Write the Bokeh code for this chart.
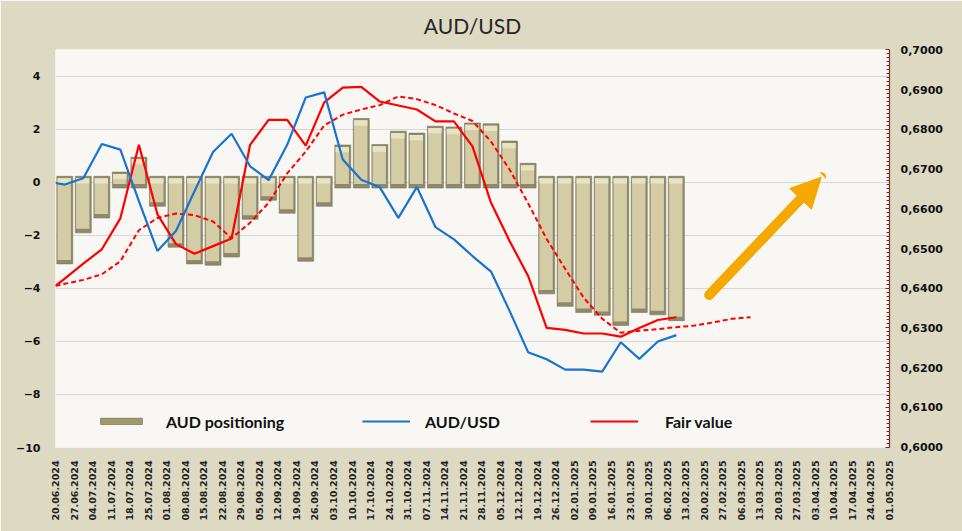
from bokeh.plotting import figure
from bokeh.models import (Range1d, LinearAxis, FixedTicker, CustomJSTickFormatter,
                          Legend, LegendItem, Arrow, NormalHead, Title)
from bokeh.embed import file_html
from bokeh.resources import INLINE
import math

# ---------------- data ----------------
week_labels = [
    "20.06.2024", "27.06.2024", "04.07.2024", "11.07.2024", "18.07.2024", "25.07.2024",
    "01.08.2024", "08.08.2024", "15.08.2024", "22.08.2024", "29.08.2024", "05.09.2024",
    "12.09.2024", "19.09.2024", "26.09.2024", "03.10.2024", "10.10.2024", "17.10.2024",
    "24.10.2024", "31.10.2024", "07.11.2024", "14.11.2024", "21.11.2024", "28.11.2024",
    "05.12.2024", "12.12.2024", "19.12.2024", "26.12.2024", "02.01.2025", "09.01.2025",
    "16.01.2025", "23.01.2025", "30.01.2025", "06.02.2025", "13.02.2025", "20.02.2025",
    "27.02.2025", "06.03.2025", "13.03.2025", "20.03.2025", "27.03.2025", "03.04.2025",
    "10.04.2025", "17.04.2025", "24.04.2025", "01.05.2025",
]

# AUD net positioning (left axis, bn USD)
positioning = [
    -3.08, -1.91, -1.35, 0.38, 0.94, -0.91, -2.45, -3.08, -3.13, -2.82,
    -1.40, -0.68, -1.17, -2.98, -0.91, 1.40, 2.40, 1.42, 1.92, 1.85,
    2.11, 2.08, 2.23, 2.20, 1.55, 0.71, -4.21, -4.68, -4.91, -5.02,
    -5.40, -4.91, -5.00, -5.22,
]

# AUD/USD (right axis) - first value sits on the first tick
audusd = [
    0.6665,
    0.6661, 0.6677, 0.6763, 0.6749, 0.6619, 0.6494, 0.6544, 0.6644, 0.6743, 0.6789,
    0.6707, 0.6672, 0.6761, 0.6880, 0.6893, 0.6724, 0.6673, 0.6654, 0.6577, 0.6655,
    0.6554, 0.6523, 0.6481, 0.6442, 0.6343, 0.6239, 0.6221, 0.6195, 0.6195, 0.6190,
    0.6264, 0.6222, 0.6266, 0.6282,
]

# Fair value (right axis)
fair_value = [
    0.6406,
    0.6424, 0.6462, 0.6498, 0.6576, 0.6761, 0.6586, 0.6511, 0.6487, 0.6506, 0.6525,
    0.6761, 0.6824, 0.6824, 0.6759, 0.6868, 0.6905, 0.6907, 0.6870, 0.6860, 0.6850,
    0.6820, 0.6820, 0.6757, 0.6615, 0.6519, 0.6431, 0.6300, 0.6295, 0.6286, 0.6286,
    0.6278, 0.6300, 0.6320, 0.6327,
]

# Fair value trend (dashed, right axis)
fair_value_trend = [
    0.6406,
    0.6411, 0.6421, 0.6435, 0.6468, 0.6546, 0.6577, 0.6588, 0.6584, 0.6568, 0.6526,
    0.6565, 0.6615, 0.6689, 0.6744, 0.6810, 0.6837, 0.6850, 0.6861, 0.6883, 0.6876,
    0.6861, 0.6840, 0.6821, 0.6769, 0.6699, 0.6614, 0.6524, 0.6449, 0.6376, 0.6323,
    0.6288, 0.6293, 0.6297, 0.6302, 0.6306, 0.6314, 0.6323, 0.6327,
]

left_ticks = [-10, -8, -6, -4, -2, 0, 2, 4]
right_ticks = [round(0.60 + 0.01 * i, 2) for i in range(11)]
right_minor = [round(0.60 + 0.001 * i, 3) for i in range(101)]

# ---------------- styles ----------------
BG = "#ddd9c3"
PLOT_BG = "#f8f7f3"
BAR_DARK = "#8e896b"
BAR_FACE = "#d4cca5"
BAR_TOP = "#e9e3c6"
BLUE = "#1874cd"
RED = "#ff0000"
ORANGE = "#f5a800"
AXIS_RED = "#8b2323"
OVERHANG = 0.22

n_bars = len(positioning)
bar_x = [k + 0.5 for k in range(n_bars)]
line_x = [0.0] + [k + 0.5 for k in range(len(audusd) - 1)]
fair_x = [0.0] + [k + 0.5 for k in range(len(fair_value) - 1)]
trend_x = [0.0] + [k + 0.5 for k in range(len(fair_value_trend) - 1)]

bar_top = [v if v > 0 else OVERHANG for v in positioning]
bar_bottom = [-OVERHANG if v > 0 else v for v in positioning]
inner_top = [t - 0.07 for t in bar_top]
inner_bottom = [b + 0.15 for b in bar_bottom]
cap_bottom = [t - 0.27 for t in bar_top]
inner_x = [x - 0.03 for x in bar_x]

p = figure(width=962, height=531, output_backend="svg", toolbar_location=None,
           x_range=Range1d(0, 45), y_range=Range1d(-10, 5),
           min_border_left=55, min_border_right=73, min_border_top=48, min_border_bottom=84)
p.extra_y_ranges = {"right": Range1d(0.5999, 0.7001)}

p.title = Title(text="AUD/USD", align="center", text_font="Lato", text_font_size="21px",
                text_font_style="normal", text_color="#262626", standoff=22,
                vertical_align="middle")

p.background_fill_color = PLOT_BG
p.border_fill_color = BG
p.outline_line_color = None

# grid
p.xgrid.visible = False
p.ygrid.ticker = FixedTicker(ticks=left_ticks)
p.ygrid.grid_line_color = "#d6d6d6"
p.ygrid.grid_line_width = 1

# x axis
p.xaxis.ticker = FixedTicker(ticks=list(range(len(week_labels))))
p.xaxis.major_label_overrides = {i: lab for i, lab in enumerate(week_labels)}
p.xaxis.major_label_orientation = math.pi / 2
p.xaxis.major_label_text_font = "DejaVu Sans"
p.xaxis.major_label_text_font_style = "bold"
p.xaxis.major_label_text_font_size = "9.5px"
p.xaxis.major_label_text_color = "#222222"
p.xaxis.axis_line_color = None
p.xaxis.major_tick_line_color = None
p.xaxis.minor_tick_line_color = None
p.xaxis.major_label_standoff = 7

# left axis
p.yaxis.ticker = FixedTicker(ticks=left_ticks)
p.yaxis.major_label_text_font = "DejaVu Sans"
p.yaxis.major_label_text_font_style = "bold"
p.yaxis.major_label_text_font_size = "11px"
p.yaxis.major_label_text_color = "#111111"
p.yaxis.axis_line_color = None
p.yaxis.major_tick_line_color = None
p.yaxis.minor_tick_line_color = None
p.yaxis.major_label_standoff = 9

# right axis
right_axis = LinearAxis(
    y_range_name="right",
    ticker=FixedTicker(ticks=right_ticks, minor_ticks=right_minor),
    formatter=CustomJSTickFormatter(code="return tick.toFixed(4).replace('.', ',');"),
    axis_line_color=AXIS_RED, axis_line_width=1.2,
    major_tick_line_color=AXIS_RED, minor_tick_line_color=AXIS_RED,
    major_tick_in=4, major_tick_out=0, minor_tick_in=3, minor_tick_out=0,
    major_label_standoff=11,
    major_label_text_font="DejaVu Sans", major_label_text_font_style="bold",
    major_label_text_font_size="11px", major_label_text_color="#111111",
)
p.add_layout(right_axis, "right")

# bars (bevelled look)
bars = p.vbar(x=bar_x, top=bar_top, bottom=bar_bottom, width=0.86,
              fill_color=BAR_DARK, line_color="#7a765c", line_width=0.6)
p.vbar(x=inner_x, top=inner_top, bottom=inner_bottom, width=0.72,
       fill_color=BAR_FACE, line_color=None)
p.vbar(x=inner_x, top=inner_top, bottom=cap_bottom, width=0.72,
       fill_color=BAR_TOP, line_color=None)

# lines
trend = p.line(trend_x, fair_value_trend, y_range_name="right", line_color=RED,
               line_width=2, line_dash="5 3")
fair = p.line(fair_x, fair_value, y_range_name="right", line_color=RED, line_width=2.2)
blue = p.line(line_x, audusd, y_range_name="right", line_color=BLUE, line_width=2.2)

# legends
def add_legend(label, renderer, x, glyph_w, glyph_h, standoff):
    lg = Legend(items=[LegendItem(label=label, renderers=[renderer])],
                location=(x, 16), orientation="horizontal",
                glyph_width=glyph_w, glyph_height=glyph_h, label_standoff=standoff,
                label_text_font="Lato", label_text_font_style="bold",
                label_text_font_size="16px", label_text_color="#111111",
                label_height=20, padding=0, margin=0,
                border_line_color=None, background_fill_alpha=0)
    p.add_layout(lg, "center")

legend_bar = p.vbar(x=[-5], top=[0], bottom=[0], width=0.1, fill_color="#a09a6c",
                    line_color="#8a8560")
add_legend("AUD positioning", legend_bar, 40, 52, 8, 19)
add_legend("AUD/USD", blue, 307, 48, 20, 15)
add_legend("Fair value", fair, 535, 48, 20, 27)

# orange arrow
arrow_start = (35.27, -4.25)
arrow_end = (41.32, 0.19)
p.add_layout(Arrow(end=NormalHead(size=30, fill_color=ORANGE, line_color=ORANGE),
                   x_start=arrow_start[0], y_start=arrow_start[1],
                   x_end=arrow_end[0], y_end=arrow_end[1],
                   line_color=ORANGE, line_width=10, line_cap="round"))

open("out.html", "w").write(file_html(p, INLINE))
